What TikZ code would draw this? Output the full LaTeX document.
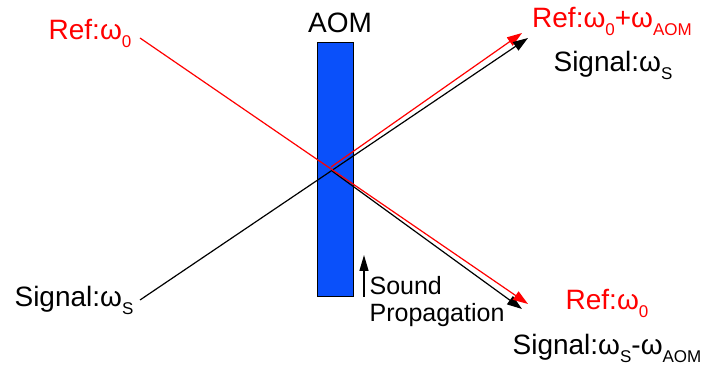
\documentclass[tikz,border=0pt]{standalone}
\usepackage{fontspec}
\setmainfont{Liberation Sans}
\usetikzlibrary{arrows.meta}
\definecolor{aomblue}{RGB}{10,80,250}
\newcommand{\lowsub}[1]{\raisebox{-0.5ex}{\fontsize{17}{17}\selectfont #1}}

\begin{document}
\begin{tikzpicture}[x=1pt,y=-1pt,line width=1.2pt,>={Triangle[length=15pt,width=10pt]},
  lbl/.style={font=\fontsize{28}{30}\selectfont,inner sep=0pt,anchor=base}]
  \useasboundingbox (0,0) rectangle (707,371);
  % AOM
  \fill[aomblue] (317,43) rectangle (353,297);
  \draw[line width=1pt] (317,43) rectangle (353,297);
  \node[lbl] (aom) at (340,33){AOM};
  % labels
  \node[lbl,red] (refin) at (90,40){Ref:ω\lowsub{0}};
  \node[lbl] (sigin) at (74,307){Signal:ω\lowsub{S}};
  \node[lbl,red] (refup) at (612,28){Ref:ω\lowsub{0}+ω\lowsub{AOM}};
  \node[lbl] (sigup) at (613,72){Signal:ω\lowsub{S}};
  \node[lbl,red] (refdn) at (607,310){Ref:ω\lowsub{0}};
  \node[lbl] (sigdn) at (607,355){Signal:ω\lowsub{S}-ω\lowsub{AOM}};
  % beam ends
  \coordinate (rin) at (140,38);
  \coordinate (sin) at (140,300);
  \coordinate (rx) at (331,167);
  \coordinate (sx) at (332,171);
  \coordinate (rout) at (528,304);
  \coordinate (sout) at (528,38);
  \coordinate (rdif) at (522,33);
  \coordinate (sdif) at (522,309);
  % beams
  \draw[->] (sx)--(sdif);
  \draw[red,->] (rx)--(rdif);
  \draw[->] (sin)--(sout);
  \draw[red,->] (rin)--(rout);
  % sound
  \coordinate (sbot) at (364,297);
  \coordinate (stop) at (364,255);
  \draw[->,line width=1.4pt,>={Triangle[length=16pt,width=9pt]}] (sbot)--(stop);
  \node[lbl,anchor=base west,align=left,font=\fontsize{25}{27}\selectfont] (sound) at (369,322){Sound\\Propagation};
\end{tikzpicture}
\end{document}
